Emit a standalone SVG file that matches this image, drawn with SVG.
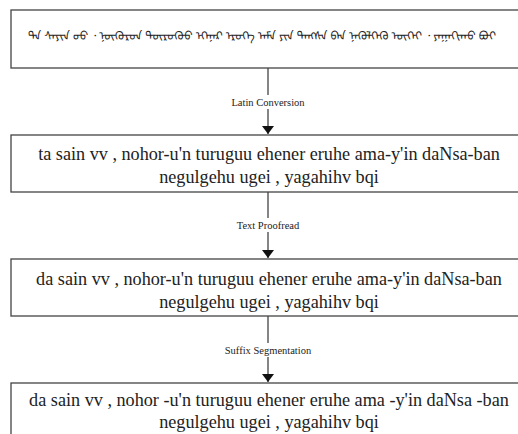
<svg xmlns="http://www.w3.org/2000/svg" width="518" height="434" viewBox="0 0 518 434">
<style>
.box{fill:#fff;stroke:#444;stroke-width:1.3}
.t{font-family:"Liberation Serif","Times New Roman",serif;font-size:18.2px;fill:#222;text-anchor:middle}
.lbl{font-family:"Liberation Serif","Times New Roman",serif;font-size:10.5px;fill:#222;text-anchor:middle}
.mn{font-family:"Noto Sans Mongolian","Mongolian Baiti","Noto Sans",sans-serif;font-size:12px;fill:#222;text-anchor:middle}
.ln{stroke:#333;stroke-width:1.2;fill:none}
</style>
<defs>
<marker id="ah" viewBox="0 0 8 12" refX="8" refY="6" markerWidth="8" markerHeight="12" markerUnits="userSpaceOnUse" orient="auto">
<path d="M0,0 L8,6 L0,12 Z" fill="#111"/>
</marker>
</defs>
<rect width="518" height="434" fill="#fff"/>
<g id="connectors">
<line class="ln" x1="268" y1="68" x2="268" y2="134" marker-end="url(#ah)"/>
<rect x="220" y="95" width="96" height="14" fill="#fff"/>
<text class="lbl" x="268" y="106">Latin Conversion</text>
<line class="ln" x1="268" y1="192" x2="268" y2="258" marker-end="url(#ah)"/>
<rect x="230" y="218" width="76" height="14" fill="#fff"/>
<text class="lbl" x="268" y="229">Text Proofread</text>
<line class="ln" x1="268" y1="316" x2="268" y2="382" marker-end="url(#ah)"/>
<rect x="218" y="343" width="100" height="14" fill="#fff"/>
<text class="lbl" x="268" y="354">Suffix Segmentation</text>
</g>
<g id="node-mongolian">
<rect class="box" x="11" y="10" width="520" height="58"/>
<text class="mn" x="262" y="40" textLength="468" lengthAdjust="spacingAndGlyphs">ᠲᠠ ᠰᠠᠶᠢᠨ ᠤᠤ ᠂ ᠨᠥᠬᠥᠷᠦᠨ ᠲᠦᠷᠦᠭᠦᠦ ᠡᠬᠡᠨᠡᠷ ᠡᠷᠦᠬᠡ ᠠᠮᠠ ᠶᠢᠨ ᠳᠠᠩᠰᠠ ᠪᠠᠨ ᠨᠡᠭᠦᠯᠭᠡᠬᠦ ᠦᠭᠡᠢ ᠂ ᠶᠠᠭᠠᠬᠢᠬᠤ ᠪᠣᠢ</text>
</g>
<g id="node-latin">
<rect class="box" x="11" y="135" width="520" height="57"/>
<text class="t" x="269" y="160">ta sain vv , nohor-u'n turuguu ehener eruhe ama-y'in daNsa-ban</text>
<text class="t" x="269" y="183">negulgehu ugei , yagahihv bqi</text>
</g>
<g id="node-proofread">
<rect class="box" x="11" y="259" width="520" height="57"/>
<text class="t" x="269" y="285">da sain vv , nohor-u'n turuguu ehener eruhe ama-y'in daNsa-ban</text>
<text class="t" x="269" y="308">negulgehu ugei , yagahihv bqi</text>
</g>
<g id="node-segmented">
<rect class="box" x="11" y="383" width="520" height="60"/>
<text class="t" x="269" y="406">da sain vv , nohor -u'n turuguu ehener eruhe ama -y'in daNsa -ban</text>
<text class="t" x="269" y="428">negulgehu ugei , yagahihv bqi</text>
</g>
</svg>
